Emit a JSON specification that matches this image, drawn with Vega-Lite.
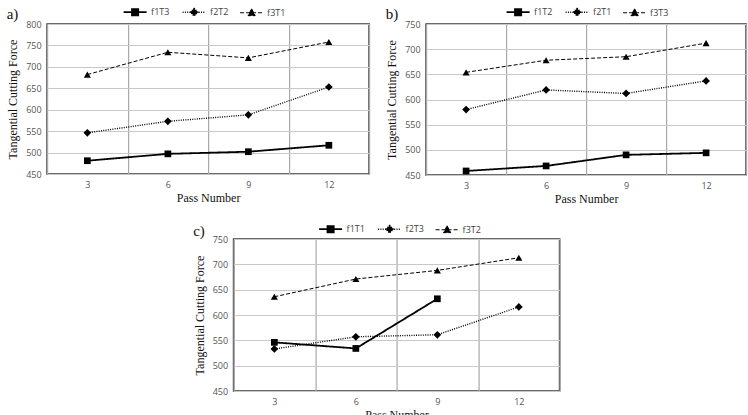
{
  "$schema": "https://vega.github.io/schema/vega-lite/v6.json",
  "background": "white",
  "padding": {"left": 5, "top": 0, "right": 4, "bottom": 0},
  "config": {
    "view": {"stroke": "#3a3a3a", "strokeWidth": 1.6},
    "axis": {
      "domain": false, "ticks": false,
      "labelFont": "Open Sans", "labelFontSize": 9, "labelColor": "#555555",
      "titleFont": "Liberation Serif", "titleFontSize": 12, "titleFontWeight": "normal", "titleColor": "#111111"
    },
    "axisX": {"labelAngle": 0, "grid": true, "gridColor": "#a8a8a8", "gridWidth": 1.2, "labelPadding": 6, "titlePadding": 3},
    "axisY": {"gridColor": "#c8c8c8", "labelPadding": 6, "titlePadding": 6},
    "legend": {
      "orient": "none", "direction": "horizontal", "title": null, "padding": 0,
      "labelFont": "Open Sans", "labelFontSize": 9, "labelColor": "#444444",
      "symbolSize": 400, "columnPadding": 9, "labelOffset": 5, "symbolStrokeColor": "black", "symbolStrokeWidth": 1.5
    },
    "title": {"font": "Liberation Serif", "fontSize": 15, "fontWeight": "normal", "anchor": "start", "frame": "bounds", "color": "#111111", "offset": -7}
  },
  "spacing": 12,
  "center": true,
  "vconcat": [
    {
      "spacing": 14,
      "resolve": {"scale": {"strokeDash": "independent", "strokeWidth": "independent", "y": "independent"}, "legend": {"strokeDash": "independent"}},
      "hconcat": [
        {
          "title": {"text": "a)", "dy": 14},
          "width": 322, "height": 150,
          "data": {"values": [
            {"pass": 3, "series": "f1T3", "force": 481}, {"pass": 6, "series": "f1T3", "force": 497},
            {"pass": 9, "series": "f1T3", "force": 502}, {"pass": 12, "series": "f1T3", "force": 517},
            {"pass": 3, "series": "f2T2", "force": 546}, {"pass": 6, "series": "f2T2", "force": 573},
            {"pass": 9, "series": "f2T2", "force": 588}, {"pass": 12, "series": "f2T2", "force": 653},
            {"pass": 3, "series": "f3T1", "force": 682}, {"pass": 6, "series": "f3T1", "force": 734},
            {"pass": 9, "series": "f3T1", "force": 721}, {"pass": 12, "series": "f3T1", "force": 758}
          ]},
          "encoding": {
            "x": {"field": "pass", "type": "ordinal", "scale": {"paddingInner": 0, "paddingOuter": 0}, "axis": {"title": "Pass Number", "tickBand": "extent"}},
            "y": {"field": "force", "type": "quantitative", "scale": {"domain": [450, 800], "nice": false, "zero": false}, "axis": {"values": [450, 500, 550, 600, 650, 700, 750, 800], "title": "Tangential Cutting Force"}}
          },
          "layer": [
            {
              "mark": {"type": "line", "color": "black"},
              "encoding": {
                "strokeDash": {"field": "series", "type": "nominal", "scale": {"domain": ["f1T3", "f2T2", "f3T1"], "range": [[1, 0], [1, 1.3], [4, 2]]},
                  "legend": {"legendX": 77, "legendY": -23, "encode": {"symbols": {"update": {"fill": {"value": "black"}, "stroke": {"value": "black"}, "strokeWidth": {"value": 1.5}, "opacity": {"value": 1}, "shape": {"signal": "datum.index == 0 ? 'M-1.15,0H1.15M-0.31,-0.31H0.31V0.31H-0.31Z' : datum.index == 1 ? 'M-1.15,0H1.15M0,-0.38L0.38,0L0,0.38L-0.38,0Z' : 'M-1.15,0H1.15M0,-0.4L0.36,0.29L-0.36,0.29Z'"}}}}}},
                "strokeWidth": {"field": "series", "type": "nominal", "scale": {"domain": ["f1T3", "f2T2", "f3T1"], "range": [1.8, 1.0, 2.0]}, "legend": null}
              }
            },
            {"transform": [{"filter": "datum.series == 'f1T3'"}], "mark": {"type": "point", "shape": "square", "filled": true, "color": "black", "opacity": 1, "size": 45}},
            {"transform": [{"filter": "datum.series == 'f2T2'"}], "mark": {"type": "point", "shape": "diamond", "filled": true, "color": "black", "opacity": 1, "size": 60}},
            {"transform": [{"filter": "datum.series == 'f3T1'"}], "mark": {"type": "point", "shape": "triangle-up", "filled": true, "color": "black", "opacity": 1, "size": 50}}
          ]
        },
        {
          "title": {"text": "b)", "dy": 14},
          "width": 320, "height": 151,
          "data": {"values": [
            {"pass": 3, "series": "f1T2", "force": 458}, {"pass": 6, "series": "f1T2", "force": 468},
            {"pass": 9, "series": "f1T2", "force": 490}, {"pass": 12, "series": "f1T2", "force": 494},
            {"pass": 3, "series": "f2T1", "force": 580}, {"pass": 6, "series": "f2T1", "force": 619},
            {"pass": 9, "series": "f2T1", "force": 612}, {"pass": 12, "series": "f2T1", "force": 637},
            {"pass": 3, "series": "f3T3", "force": 654}, {"pass": 6, "series": "f3T3", "force": 678},
            {"pass": 9, "series": "f3T3", "force": 685}, {"pass": 12, "series": "f3T3", "force": 712}
          ]},
          "encoding": {
            "x": {"field": "pass", "type": "ordinal", "scale": {"paddingInner": 0, "paddingOuter": 0}, "axis": {"title": "Pass Number", "tickBand": "extent"}},
            "y": {"field": "force", "type": "quantitative", "scale": {"domain": [450, 750], "nice": false, "zero": false}, "axis": {"values": [450, 500, 550, 600, 650, 700, 750], "title": "Tangential Cutting Force"}}
          },
          "layer": [
            {
              "mark": {"type": "line", "color": "black"},
              "encoding": {
                "strokeDash": {"field": "series", "type": "nominal", "scale": {"domain": ["f1T2", "f2T1", "f3T3"], "range": [[1, 0], [1, 1.3], [4, 2]]},
                  "legend": {"legendX": 81, "legendY": -23, "encode": {"symbols": {"update": {"fill": {"value": "black"}, "stroke": {"value": "black"}, "strokeWidth": {"value": 1.5}, "opacity": {"value": 1}, "shape": {"signal": "datum.index == 0 ? 'M-1.15,0H1.15M-0.31,-0.31H0.31V0.31H-0.31Z' : datum.index == 1 ? 'M-1.15,0H1.15M0,-0.38L0.38,0L0,0.38L-0.38,0Z' : 'M-1.15,0H1.15M0,-0.4L0.36,0.29L-0.36,0.29Z'"}}}}}},
                "strokeWidth": {"field": "series", "type": "nominal", "scale": {"domain": ["f1T2", "f2T1", "f3T3"], "range": [1.8, 1.0, 2.0]}, "legend": null}
              }
            },
            {"transform": [{"filter": "datum.series == 'f1T2'"}], "mark": {"type": "point", "shape": "square", "filled": true, "color": "black", "opacity": 1, "size": 45}},
            {"transform": [{"filter": "datum.series == 'f2T1'"}], "mark": {"type": "point", "shape": "diamond", "filled": true, "color": "black", "opacity": 1, "size": 60}},
            {"transform": [{"filter": "datum.series == 'f3T3'"}], "mark": {"type": "point", "shape": "triangle-up", "filled": true, "color": "black", "opacity": 1, "size": 50}}
          ]
        }
      ]
    },
    {
      "title": {"text": "c)", "dy": 14},
      "width": 326, "height": 152,
      "data": {"values": [
        {"pass": 3, "series": "f1T1", "force": 546}, {"pass": 6, "series": "f1T1", "force": 534},
        {"pass": 9, "series": "f1T1", "force": 632},
        {"pass": 3, "series": "f2T3", "force": 533}, {"pass": 6, "series": "f2T3", "force": 557},
        {"pass": 9, "series": "f2T3", "force": 561}, {"pass": 12, "series": "f2T3", "force": 616},
        {"pass": 3, "series": "f3T2", "force": 636}, {"pass": 6, "series": "f3T2", "force": 671},
        {"pass": 9, "series": "f3T2", "force": 688}, {"pass": 12, "series": "f3T2", "force": 713}
      ]},
      "encoding": {
        "x": {"field": "pass", "type": "ordinal", "scale": {"domain": [3, 6, 9, 12], "paddingInner": 0, "paddingOuter": 0}, "axis": {"title": "Pass Number", "tickBand": "extent"}},
        "y": {"field": "force", "type": "quantitative", "scale": {"domain": [450, 750], "nice": false, "zero": false}, "axis": {"values": [450, 500, 550, 600, 650, 700, 750], "title": "Tangential Cutting Force"}}
      },
      "layer": [
        {
          "mark": {"type": "line", "color": "black"},
          "encoding": {
            "strokeDash": {"field": "series", "type": "nominal", "scale": {"domain": ["f1T1", "f2T3", "f3T2"], "range": [[1, 0], [1, 1.3], [4, 2]]},
              "legend": {"legendX": 86, "legendY": -21, "encode": {"symbols": {"update": {"fill": {"value": "black"}, "stroke": {"value": "black"}, "strokeWidth": {"value": 1.5}, "opacity": {"value": 1}, "shape": {"signal": "datum.index == 0 ? 'M-1.15,0H1.15M-0.31,-0.31H0.31V0.31H-0.31Z' : datum.index == 1 ? 'M-1.15,0H1.15M0,-0.38L0.38,0L0,0.38L-0.38,0Z' : 'M-1.15,0H1.15M0,-0.4L0.36,0.29L-0.36,0.29Z'"}}}}}},
            "strokeWidth": {"field": "series", "type": "nominal", "scale": {"domain": ["f1T1", "f2T3", "f3T2"], "range": [1.8, 1.0, 2.0]}, "legend": null}
          }
        },
        {"transform": [{"filter": "datum.series == 'f1T1'"}], "mark": {"type": "point", "shape": "square", "filled": true, "color": "black", "opacity": 1, "size": 45}},
        {"transform": [{"filter": "datum.series == 'f2T3'"}], "mark": {"type": "point", "shape": "diamond", "filled": true, "color": "black", "opacity": 1, "size": 60}},
        {"transform": [{"filter": "datum.series == 'f3T2'"}], "mark": {"type": "point", "shape": "triangle-up", "filled": true, "color": "black", "opacity": 1, "size": 50}}
      ]
    }
  ],
  "resolve": {"scale": {"strokeDash": "independent", "strokeWidth": "independent", "y": "independent", "x": "independent"}, "legend": {"strokeDash": "independent"}}
}
